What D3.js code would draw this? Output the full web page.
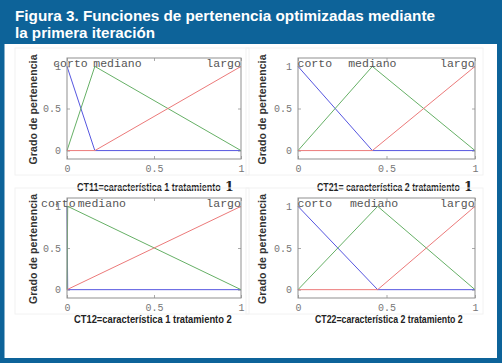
<!DOCTYPE html>
<html>
<head>
<meta charset="utf-8">
<script src="https://cdn.jsdelivr.net/npm/d3@7"></script>
<style>
  body { margin: 0; background: #fff; }
  svg { display: block; }
</style>
</head>
<body>
<div id="chart"></div>
<script>
// Figure title and panel captions
const titleLines = ["Figura 3. Funciones de pertenencia optimizadas mediante", "la primera iteración"];
const captions = [
  ["CT11=característica 1 tratamiento", "1"],
  ["CT21= característica 2 tratamiento", "1"],
  ["CT12=característica 1 tratamiento 2", ""],
  ["CT22=característica 2 tratamiento 2", ""]
];
const mfNames = ["corto", "mediano", "largo"];
const xTicks = [0, 0.5, 1];
const yTicks = [0, 0.5, 1];

// membership functions, vertices [x, grado]
const corto11 = [[0, 1], [0.16, 0], [1, 0]];
const mediano11 = [[0, 0], [0.16, 1], [1, 0]];
const largo11 = [[0, 0], [0.16, 0], [1, 1]];

const corto21 = [[0, 1], [0.42, 0], [1, 0]];
const mediano21 = [[0, 0], [0.42, 1], [1, 0]];
const largo21 = [[0, 0], [0.42, 0], [1, 1]];

const corto12 = [[0, 1], [0.004, 0], [1, 0]];
const mediano12 = [[0, 0], [0.004, 1], [1, 0]];
const largo12 = [[0, 0], [1, 1]];

const corto22 = [[0, 1], [0.45, 0], [1, 0]];
const mediano22 = [[0, 0], [0.45, 1], [1, 0]];
const largo22 = [[0, 0], [0.45, 0], [1, 1]];

// where the mf names sit (centre, x units)
const labelAt11 = [0.02, 0.29, 0.9];
const labelAt21 = [0.095, 0.42, 0.9];
const labelAt12 = [-0.05, 0.2, 0.9];
const labelAt22 = [0.095, 0.43, 0.9];

const panels = [
  { mfs: [corto11, mediano11, largo11], labels: labelAt11, caption: captions[0] },
  { mfs: [corto21, mediano21, largo21], labels: labelAt21, caption: captions[1] },
  { mfs: [corto12, mediano12, largo12], labels: labelAt12, caption: captions[2] },
  { mfs: [corto22, mediano22, largo22], labels: labelAt22, caption: captions[3] }
];

const W = 502, H = 363;
const blue = "#0d6399";
const mfColors = ["#5656e0", "#66b066", "#ec7a7a"];
const mono = "'Liberation Mono', 'DejaVu Sans Mono', monospace";
const sans = "'Liberation Sans', Arial, sans-serif";

const svg = d3.select("#chart").append("svg")
  .attr("width", W).attr("height", H);

svg.append("rect").attr("width", W).attr("height", H).attr("fill", blue);
svg.append("rect")
  .attr("x", 4.5).attr("y", 44)
  .attr("width", 492.5).attr("height", 314)
  .attr("fill", "#fff");

const titleWidths = [420, 140];
svg.selectAll("text.title")
  .data(titleLines)
  .join("text")
  .attr("class", "title")
  .attr("x", 15)
  .attr("y", (d, i) => 21 + i * 17)
  .attr("fill", "#fff")
  .attr("font-family", sans)
  .attr("font-weight", "bold")
  .attr("font-size", 14)
  .attr("textLength", (d, i) => titleWidths[i])
  .attr("lengthAdjust", "spacingAndGlyphs")
  .text(d => d);

// panel geometry: columns and rows of the axes boxes
const cols = [{ x: 67, w: 174, lab: 37 }, { x: 298, w: 177, lab: 266 }];
const rows = [{ y: 58, h: 101, cap: 191 }, { y: 198, h: 100, cap: 323 }];
const capX = [77, 317, 74, 315];
const capWidths = [144, 143, 158, 148];

panels.forEach((p, i) => {
  const c = cols[i % 2], r = rows[Math.floor(i / 2)];
  const g = svg.append("g");

  const x = d3.scaleLinear().domain([0, 1]).range([c.x, c.x + c.w]);
  const y = d3.scaleLinear().domain([-0.1, 1.1]).range([r.y + r.h, r.y]);

  // faint frame of the pasted image
  g.append("rect")
    .attr("x", c.x - 52).attr("y", r.y - 10)
    .attr("width", c.w + 60).attr("height", r.h + 26)
    .attr("fill", "none").attr("stroke", "#f2f2f2");

  const yAxis = g.append("g")
    .attr("transform", `translate(${c.x},0)`)
    .call(d3.axisLeft(y).tickValues(yTicks).tickFormat(d3.format("")).tickSizeInner(-3).tickSizeOuter(0).tickPadding(6));
  const xAxis = g.append("g")
    .attr("transform", `translate(0,${r.y + r.h})`)
    .call(d3.axisBottom(x).tickValues(xTicks).tickFormat(d3.format("")).tickSizeInner(-3).tickSizeOuter(0).tickPadding(6));
  g.append("g")
    .attr("transform", `translate(0,${r.y})`)
    .call(d3.axisTop(x).tickValues(xTicks).tickFormat("").tickSizeInner(-3).tickSizeOuter(0));
  g.append("g")
    .attr("transform", `translate(${c.x + c.w},0)`)
    .call(d3.axisRight(y).tickValues(yTicks).tickFormat("").tickSizeInner(-3).tickSizeOuter(0));

  g.selectAll(".domain").remove();
  g.selectAll(".tick line").attr("stroke", "#aaa");
  [yAxis, xAxis].forEach(a => a.selectAll(".tick text")
    .attr("font-family", mono).attr("font-size", 10).attr("fill", "#777"));

  const line = d3.line().x(d => x(d[0])).y(d => y(d[1]));
  g.selectAll("path.mf")
    .data(p.mfs)
    .join("path")
    .attr("class", "mf")
    .attr("d", line)
    .attr("fill", "none")
    .attr("stroke", (d, k) => mfColors[k])
    .attr("stroke-width", 1);

  g.append("rect")
    .attr("x", c.x).attr("y", r.y)
    .attr("width", c.w).attr("height", r.h)
    .attr("fill", "none").attr("stroke", "#8f8f8f");

  g.selectAll("text.mfname")
    .data(mfNames)
    .join("text")
    .attr("class", "mfname")
    .attr("x", (d, k) => x(p.labels[k]))
    .attr("y", y(1) + 1)
    .attr("text-anchor", "middle")
    .attr("font-family", mono)
    .attr("font-size", 11.5)
    .attr("fill", "#555")
    .text(d => d);

  g.append("text")
    .attr("transform", `translate(${c.lab},${r.y + r.h / 2 + 1}) rotate(-90)`)
    .attr("text-anchor", "middle")
    .attr("font-family", sans)
    .attr("font-weight", "bold")
    .attr("font-size", 10.5)
    .attr("textLength", 110)
    .attr("lengthAdjust", "spacing")
    .attr("fill", "#333")
    .text("Grado de pertenencia");

  // caption, squeezed horizontally like the condensed face of the original
  const cap = g.append("text")
    .attr("font-family", sans)
    .attr("font-weight", "bold")
    .attr("font-size", 10)
    .attr("fill", "#222")
    .text(p.caption[0]);
  const natural = cap.node().getComputedTextLength();
  cap.attr("transform", `translate(${capX[i]},${r.cap}) scale(${capWidths[i] / natural},1)`);
  if (p.caption[1]) {
    g.append("text")
      .attr("x", capX[i] + capWidths[i] + 4).attr("y", r.cap)
      .attr("font-family", "'DejaVu Serif', serif")
      .attr("font-weight", "bold")
      .attr("font-size", 12.5)
      .attr("fill", "#222")
      .text(p.caption[1]);
  }
});
</script>
</body>
</html>
